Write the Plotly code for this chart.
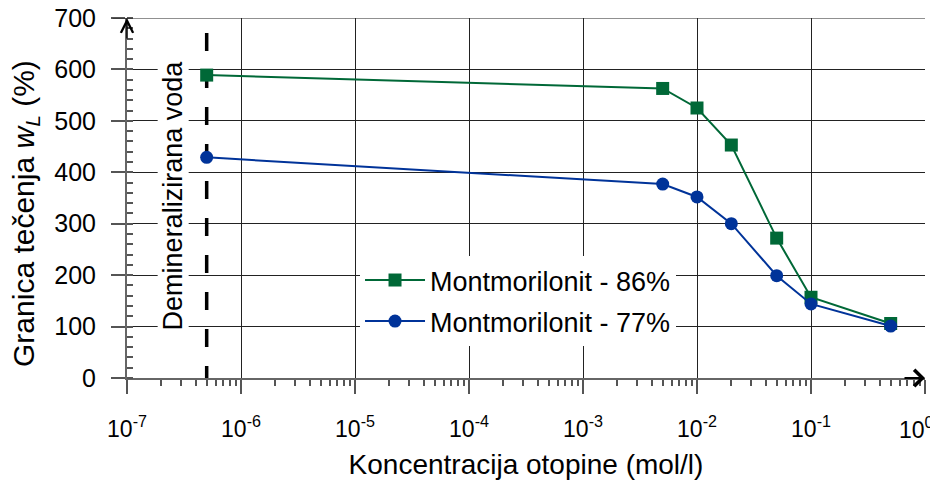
import plotly.graph_objects as go

# Data
conc = [5e-7, 5e-3, 1e-2, 2e-2, 5e-2, 1e-1, 5e-1]
wl_86 = [589, 563, 525, 453, 272, 157, 106]
wl_77 = [429, 377, 352, 300, 199, 144, 101]
demin_x = [5e-7, 5e-7]
demin_y = [671, 0]
x_tickvals = [1e-7, 1e-6, 1e-5, 1e-4, 1e-3, 1e-2, 1e-1, 1e0]
x_ticktext = ["10<sup>-7</sup>", "10<sup>-6</sup>", "10<sup>-5</sup>", "10<sup>-4</sup>",
              "10<sup>-3</sup>", "10<sup>-2</sup>", "10<sup>-1</sup>", "10<sup>0</sup>"]
y_tickvals = [0, 100, 200, 300, 400, 500, 600, 700]
y_max = 700

minor_x = [m * 10.0 ** k for k in range(-7, 0) for m in range(2, 10)]

FONT = "Liberation Sans, Arial, sans-serif"
GREEN = "#006837"
BLUE = "#003399"

fig = go.Figure()
fig.add_trace(go.Scatter(x=demin_x, y=demin_y, mode="lines",
                         line=dict(color="black", width=3.5, dash="18px,19px"),
                         showlegend=False, hoverinfo="skip"))
fig.add_trace(go.Scatter(x=conc, y=wl_86, mode="lines+markers", name="Montmorilonit - 86%",
                         line=dict(color=GREEN, width=2),
                         marker=dict(symbol="square", size=13, color=GREEN),
                         legendgroup="a"))
fig.add_trace(go.Scatter(x=conc, y=wl_77, mode="lines+markers", name="Montmorilonit - 77%",
                         line=dict(color=BLUE, width=2),
                         marker=dict(symbol="circle", size=13, color=BLUE),
                         legendgroup="b"))

fig.update_layout(
    width=930, height=475,
    margin=dict(l=119, r=13, t=10, b=105, autoexpand=False),
    plot_bgcolor="white", paper_bgcolor="white",
    font=dict(family=FONT, color="black", size=24),
    legend=dict(x=0.292, y=0.339, xanchor="left", yanchor="top",
                bgcolor="white", font=dict(size=27), tracegroupgap=3,
                itemwidth=60),
    xaxis=dict(type="log", range=[-7, 0], automargin=False,
               tickvals=x_tickvals, ticktext=x_ticktext[:-1] + [""],
               tickfont=dict(size=23), ticklabeloverflow="allow",
               ticks="outside", ticklen=14, tickwidth=1.5, tickcolor="#555",
               ticklabelstandoff=15,
               minor=dict(tickvals=minor_x, ticks="outside", ticklen=6,
                          tickcolor="#555", tickwidth=1.5, showgrid=False),
               showgrid=True, gridcolor="#222", gridwidth=1,
               showline=True, linecolor="#666", linewidth=2,
               zeroline=False,
               title=dict(text="Koncentracija otopine (mol/l)", font=dict(size=28), standoff=14)),
    yaxis=dict(range=[0, y_max], tickvals=y_tickvals, automargin=False,
               tickfont=dict(size=25), ticklabeloverflow="allow",
               ticks="outside", ticklen=14, tickwidth=1.5, tickcolor="#555",
               ticklabelstandoff=10,
               minor=dict(dtick=20, ticks="inside", ticklen=6, tickcolor="#555",
                          tickwidth=1.5, showgrid=False),
               showgrid=True, gridcolor="#222", gridwidth=1,
               showline=True, linecolor="#666", linewidth=2,
               zeroline=False),
)

# top grid line (with its outside tick), which plotly drops at the plot edge
fig.add_shape(type="line", xref="paper", yref="y", x0=-0.018, x1=1, y0=y_max, y1=y_max,
              line=dict(color="#222", width=1), layer="above")

# last x tick label, kept inside the page edge
fig.add_annotation(x=1, y=0, xref="paper", yref="paper", xanchor="right", yanchor="top",
                   xshift=11, yshift=-33, text=x_ticktext[-1], showarrow=False,
                   font=dict(size=23))

fig.add_annotation(x=0, y=0, xref="x", yref="y", ax=-22, ay=0, text="",
                   showarrow=True, arrowhead=4, arrowsize=1.6, arrowwidth=2, arrowcolor="black")
fig.add_annotation(x=-7, y=y_max, xref="x", yref="y", ax=0, ay=22, text="",
                   showarrow=True, arrowhead=5, arrowsize=1.6, arrowwidth=1.5, arrowcolor="black")
fig.add_annotation(x=0.058, y=0.508, xref="paper", yref="paper", xanchor="center", yanchor="middle",
                   text="Demineralizirana voda", textangle=-90, showarrow=False,
                   font=dict(size=27), bgcolor="white", borderpad=0)
fig.add_annotation(x=-0.128, y=0.458, xref="paper", yref="paper", xanchor="center", yanchor="middle",
                   text="Granica tečenja <i>w<sub>L</sub></i> (%)", textangle=-90, showarrow=False,
                   font=dict(size=30))

fig.write_html("out.html")
